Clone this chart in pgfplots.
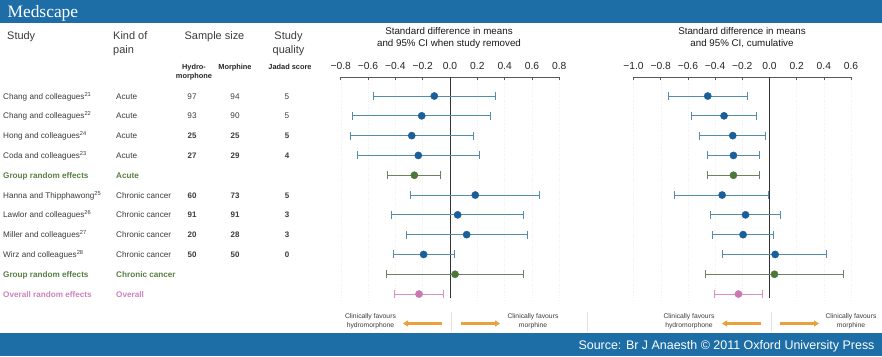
\documentclass[border=0pt]{standalone}
\usepackage{fontspec}
\setmainfont{Liberation Sans}
\newfontfamily\logofont{Liberation Serif}
\usepackage{pgfplots}
\usepackage{pgfplotstable}
\pgfplotsset{compat=1.18}
\usetikzlibrary{arrows.meta}

\definecolor{headblue}{RGB}{29,110,166}
\definecolor{dotblue}{RGB}{26,94,154}
\definecolor{barblue}{RGB}{84,140,175}
\definecolor{dotgreen}{RGB}{77,120,58}
\definecolor{bargreen}{RGB}{105,132,92}
\definecolor{dotpink}{RGB}{200,120,178}
\definecolor{barpink}{RGB}{215,145,198}
\definecolor{arrorange}{RGB}{236,160,60}
\definecolor{greentext}{RGB}{88,128,68}
\definecolor{pinktext}{RGB}{205,130,190}
\definecolor{txt}{RGB}{60,60,60}

% left plot: when study removed
\pgfplotstableread{
x y ep em
-0.115 -1 0.449 0.445
-0.207 -2 0.502 0.507
-0.280 -3 0.448 0.449
-0.232 -4 0.447 0.448
0.185 -6 0.471 0.475
0.056 -7 0.481 0.485
0.122 -8 0.444 0.441
-0.193 -9 0.225 0.222
}\leftstudies
\pgfplotstableread{
x y ep em
-0.261 -5 0.188 0.195
0.037 -10 0.502 0.503
}\leftgroups
\pgfplotstableread{
x y ep em
-0.227 -11 0.181 0.180
}\leftoverall
% right plot: cumulative
\pgfplotstableread{
x y ep em
-0.454 -1 0.292 0.287
-0.334 -2 0.236 0.240
-0.270 -3 0.241 0.245
-0.265 -4 0.191 0.192
-0.348 -6 0.343 0.349
-0.176 -7 0.257 0.258
-0.194 -8 0.226 0.226
0.042 -9 0.380 0.388
}\rightstudies
\pgfplotstableread{
x y ep em
-0.265 -5 0.191 0.192
0.037 -10 0.506 0.505
}\rightgroups
\pgfplotstableread{
x y ep em
-0.228 -11 0.179 0.179
}\rightoverall

\pgfplotsset{
  forest/.style={
    scale only axis, anchor=north west,
    height=223bp, ymin=-11.3, ymax=-0.04,
    axis x line*=top, axis y line=none,
    tick align=inside, major tick length=3bp,
    tick style={black!65, line width=0.5pt},
    axis line style={black!65, line width=0.6pt},
    x tick label style={font=\fontsize{10.3}{12}\selectfont, text=black!85, yshift=4bp},
    xmajorgrids, grid style={black!6, line width=0.4pt, dotted},
    clip=false,
  },
  fp/.style n args={2}{
    only marks, mark=*, mark size=3.6bp,
    mark options={fill=#1, draw=#1},
    error bars/.cd, x dir=both, x explicit,
    error bar style={line width=0.75pt, color=#2},
    error mark options={line width=0.75pt, mark size=4bp, color=#2, rotate=90},
  },
}

\begin{document}
\begin{tikzpicture}[x=1bp,y=1bp]
\path[use as bounding box, fill=white] (0,0) rectangle (882,-356);
% header and footer bars
\fill[headblue] (0,0) rectangle (882,-23);
\node[anchor=base west, text=white, font=\logofont\fontsize{17.5}{19}\selectfont] at (4,-17.5) {Medscape};
\fill[headblue] (0,-333) rectangle (882,-356);
\node[anchor=base east, text=white, font=\fontsize{12.5}{14}\selectfont] at (878,-349.5) {Source: Br J Anaesth © 2011 Oxford University Press};

% column headers
\begin{scope}[every node/.style={anchor=base west, text=txt, font=\fontsize{11}{13}\selectfont, inner sep=0pt}]
\node at (7,-39.3) {Study};
\node at (113,-39.3) {Kind of};
\node at (113,-53.3) {pain};
\node[anchor=base] at (214.5,-39.3) {Sample size};
\node[anchor=base] at (288.5,-39.3) {Study};
\node[anchor=base] at (288.5,-53.3) {quality};
\end{scope}
\begin{scope}[every node/.style={anchor=base, text=black!85, font=\bfseries\fontsize{7.4}{8.5}\selectfont, inner sep=0pt}]
\node at (194,-69) {Hydro-};
\node at (194,-78) {morphone};
\node at (235,-69) {Morphine};
\node at (290,-69) {Jadad score};
\end{scope}

% plot titles
\begin{scope}[every node/.style={anchor=base, text=black!90, font=\fontsize{9.8}{11.5}\selectfont, inner sep=0pt}]
\node at (449,-34) {Standard difference in means};
\node at (449,-46.5) {and 95\% CI when study removed};
\node at (742,-34) {Standard difference in means};
\node at (742,-46.5) {and 95\% CI, cumulative};
\end{scope}

% study rows
\begin{scope}[every node/.style={anchor=base west, text=txt, font=\fontsize{8.2}{9.5}\selectfont, inner sep=0pt}]
\node at (3,-99) {Chang and colleagues\textsuperscript{21}};
\node at (3,-118.8) {Chang and colleagues\textsuperscript{22}};
\node at (3,-138.6) {Hong and colleagues\textsuperscript{24}};
\node at (3,-158.4) {Coda and colleagues\textsuperscript{23}};
\node at (3,-198) {Hanna and Thipphawong\textsuperscript{25}};
\node at (3,-217.8) {Lawlor and colleagues\textsuperscript{26}};
\node at (3,-237.6) {Miller and colleagues\textsuperscript{27}};
\node at (3,-257.4) {Wirz and colleagues\textsuperscript{28}};
\node at (116,-99) {Acute};
\node at (116,-118.8) {Acute};
\node at (116,-138.6) {Acute};
\node at (116,-158.4) {Acute};
\node at (116,-198) {Chronic cancer};
\node at (116,-217.8) {Chronic cancer};
\node at (116,-237.6) {Chronic cancer};
\node at (116,-257.4) {Chronic cancer};
\end{scope}
\begin{scope}[every node/.style={anchor=base west, font=\bfseries\fontsize{8.2}{9.5}\selectfont, inner sep=0pt}]
\node[text=greentext] at (3,-178.2) {Group random effects};
\node[text=greentext] at (116,-178.2) {Acute};
\node[text=greentext] at (3,-277.2) {Group random effects};
\node[text=greentext] at (116,-277.2) {Chronic cancer};
\node[text=pinktext] at (3,-297) {Overall random effects};
\node[text=pinktext] at (116,-297) {Overall};
\end{scope}
% numbers
\begin{scope}[every node/.style={anchor=base, text=txt, font=\fontsize{8.2}{9.5}\selectfont, inner sep=0pt}]
\node at (192,-99) {97};   \node at (235,-99) {94};   \node at (287,-99) {5};
\node at (192,-118.8) {93}; \node at (235,-118.8) {90}; \node at (287,-118.8) {5};
\end{scope}
\begin{scope}[every node/.style={anchor=base, text=txt, font=\bfseries\fontsize{8}{9.5}\selectfont, inner sep=0pt}]
\node at (192,-138.6) {25}; \node at (235,-138.6) {25}; \node at (287,-138.6) {5};
\node at (192,-158.4) {27}; \node at (235,-158.4) {29}; \node at (287,-158.4) {4};
\node at (192,-198) {60};   \node at (235,-198) {73};   \node at (287,-198) {5};
\node at (192,-217.8) {91}; \node at (235,-217.8) {91}; \node at (287,-217.8) {3};
\node at (192,-237.6) {20}; \node at (235,-237.6) {28}; \node at (287,-237.6) {3};
\node at (192,-257.4) {50}; \node at (235,-257.4) {50}; \node at (287,-257.4) {0};
\end{scope}

% left forest plot
\begin{axis}[forest, at={(340.7bp,-77bp)}, width=218.6bp,
  xmin=-0.8, xmax=0.8,
  xtick={-0.8,-0.6,-0.4,-0.2,0,0.2,0.4,0.6,0.8},
  xticklabels={−0.8,−0.6,−0.4,−0.2,0.0,0.2,0.4,0.6,0.8}]
\draw[black!80, line width=0.6pt] (axis cs:0,-0.04) -- (axis cs:0,-11.2);
\addplot[fp={dotblue}{barblue}] table[x=x,y=y,x error plus=ep,x error minus=em] {\leftstudies};
\addplot[fp={dotgreen}{bargreen}] table[x=x,y=y,x error plus=ep,x error minus=em] {\leftgroups};
\addplot[fp={dotpink}{barpink}] table[x=x,y=y,x error plus=ep,x error minus=em] {\leftoverall};
\end{axis}

% right forest plot
\begin{axis}[forest, at={(633.5bp,-77bp)}, width=217.5bp,
  xmin=-1.0, xmax=0.6,
  xtick={-1,-0.8,-0.6,-0.4,-0.2,0,0.2,0.4,0.6},
  xticklabels={−1.0,−0.8,−0.6,−0.4,−0.2,0.0,0.2,0.4,0.6}]
\draw[black!80, line width=0.6pt] (axis cs:0,-0.04) -- (axis cs:0,-11.2);
\addplot[fp={dotblue}{barblue}] table[x=x,y=y,x error plus=ep,x error minus=em] {\rightstudies};
\addplot[fp={dotgreen}{bargreen}] table[x=x,y=y,x error plus=ep,x error minus=em] {\rightgroups};
\addplot[fp={dotpink}{barpink}] table[x=x,y=y,x error plus=ep,x error minus=em] {\rightoverall};
\end{axis}

% favour annotations
\begin{scope}[every node/.style={align=center, text=txt, font=\fontsize{6.8}{9}\selectfont, inner sep=0pt}]
\node at (370.5,-321.5) {Clinically favours\\hydromorphone};
\node at (533,-321.5) {Clinically favours\\morphine};
\node at (689,-321.5) {Clinically favours\\hydromorphone};
\node at (851,-321.5) {Clinically favours\\morphine};
\end{scope}
\draw[draw=arrorange, line width=2.2bp, -{Triangle[length=5bp,width=6bp]}] (442,-323.5) -- (403,-323.5);
\draw[draw=arrorange, line width=2.2bp, -{Triangle[length=5bp,width=6bp]}] (461,-323.5) -- (500,-323.5);
\draw[draw=arrorange, line width=2.2bp, -{Triangle[length=5bp,width=6bp]}] (761,-323.5) -- (722,-323.5);
\draw[draw=arrorange, line width=2.2bp, -{Triangle[length=5bp,width=6bp]}] (780,-323.5) -- (819,-323.5);
\begin{scope}[black!12, line width=0.5pt]
\draw (451,-312) -- (451,-331);
\draw (587,-312) -- (587,-331);
\draw (771,-312) -- (771,-331);
\end{scope}
\end{tikzpicture}
\end{document}
